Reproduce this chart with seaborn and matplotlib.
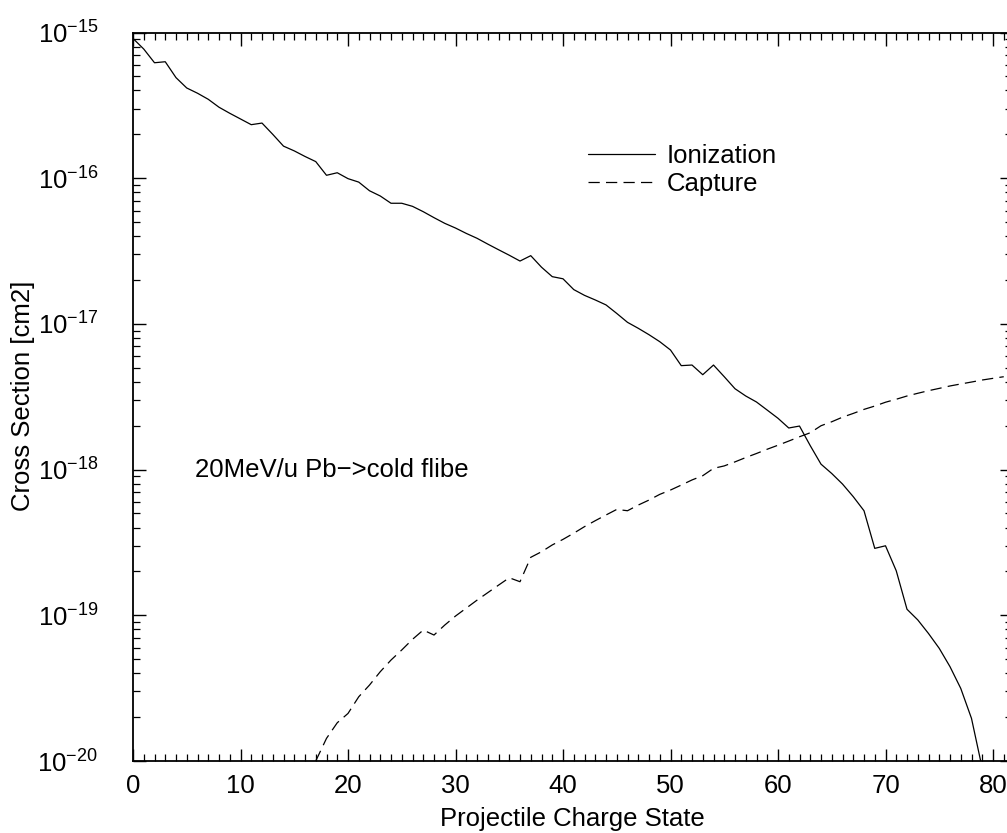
import numpy as np
import pandas as pd
import matplotlib
matplotlib.use("Agg")
import matplotlib.pyplot as plt
import matplotlib.ticker as mticker
import seaborn as sns

# ---------------- data ----------------
ion_charge = list(range(0, 80))
ion_sigma = [
    9.1e-16, 7.7e-16, 6.2e-16, 6.3e-16, 4.9e-16, 4.16e-16, 3.83e-16, 3.48e-16, 3.07e-16, 2.79e-16,
    2.55e-16, 2.33e-16, 2.39e-16, 2.0e-16, 1.66e-16, 1.54e-16, 1.41e-16, 1.30e-16, 1.047e-16, 1.09e-16,
    9.93e-17, 9.4e-17, 8.2e-17, 7.55e-17, 6.73e-17, 6.73e-17, 6.41e-17, 5.89e-17, 5.36e-17, 4.9e-17,
    4.55e-17, 4.18e-17, 3.87e-17, 3.53e-17, 3.23e-17, 2.96e-17, 2.70e-17, 2.94e-17, 2.45e-17, 2.11e-17,
    2.04e-17, 1.72e-17, 1.57e-17, 1.46e-17, 1.35e-17, 1.18e-17, 1.025e-17, 9.33e-18, 8.43e-18, 7.55e-18,
    6.62e-18, 5.17e-18, 5.22e-18, 4.48e-18, 5.22e-18, 4.34e-18, 3.59e-18, 3.2e-18, 2.91e-18, 2.56e-18,
    2.25e-18, 1.93e-18, 1.99e-18, 1.46e-18, 1.09e-18, 9.4e-19, 7.96e-19, 6.52e-19, 5.22e-19, 2.88e-19,
    3.0e-19, 2.02e-19, 1.10e-19, 9.3e-20, 7.5e-20, 5.93e-20, 4.44e-20, 3.15e-20, 1.96e-20, 8.9e-21,
]

cap_charge = list(range(17, 82))
cap_sigma = [
    1.0e-20, 1.43e-20, 1.83e-20, 2.12e-20, 2.76e-20, 3.32e-20, 4.1e-20, 4.93e-20, 5.78e-20, 6.84e-20,
    7.92e-20, 7.32e-20, 8.57e-20, 9.88e-20, 1.12e-19, 1.27e-19, 1.43e-19, 1.61e-19, 1.81e-19, 1.70e-19,
    2.5e-19, 2.73e-19, 3.04e-19, 3.32e-19, 3.66e-19, 4.06e-19, 4.46e-19, 4.88e-19, 5.33e-19, 5.22e-19,
    5.71e-19, 6.18e-19, 6.76e-19, 7.24e-19, 7.83e-19, 8.49e-19, 9.08e-19, 1.02e-18, 1.06e-18, 1.13e-18,
    1.21e-18, 1.29e-18, 1.38e-18, 1.47e-18, 1.57e-18, 1.68e-18, 1.79e-18, 2.0e-18, 2.13e-18, 2.29e-18,
    2.43e-18, 2.59e-18, 2.73e-18, 2.9e-18, 3.04e-18, 3.2e-18, 3.34e-18, 3.48e-18, 3.61e-18, 3.75e-18,
    3.87e-18, 3.99e-18, 4.12e-18, 4.23e-18, 4.34e-18,
]

y_major_ticks = [1e-20, 1e-19, 1e-18, 1e-17, 1e-16, 1e-15]
x_major_ticks = [0, 10, 20, 30, 40, 50, 60, 70, 80]

series_names = ["Ionization", "Capture"]
x_label = "Projectile Charge State"
y_label = "Cross Section [cm2]"
note_text = "20MeV/u Pb\u2212>cold flibe"

# ---------------- style ----------------
sns.set_theme(style="ticks")
plt.rcParams["font.family"] = ["Liberation Sans", "DejaVu Sans"]
plt.rcParams["mathtext.fontset"] = "custom"
plt.rcParams["mathtext.rm"] = "Liberation Sans"
plt.rcParams["mathtext.it"] = "Liberation Sans:italic"
plt.rcParams["mathtext.bf"] = "Liberation Sans:bold"
for k in ["text.color", "axes.labelcolor", "xtick.color", "ytick.color", "axes.edgecolor"]:
    plt.rcParams[k] = "black"
FS = 18.5

W, H = 1007, 833
fig = plt.figure(figsize=(W / 100, H / 100), dpi=100)
left, right, top, bottom = 133, 1012, 32.5, 761
AW, AH = right - left, bottom - top
ax = fig.add_axes([left / W, 1 - bottom / H, AW / W, AH / H])

df_ion = pd.DataFrame({"q": ion_charge, "sigma": ion_sigma})
df_cap = pd.DataFrame({"q": cap_charge, "sigma": cap_sigma})

sns.lineplot(data=df_ion, x="q", y="sigma", ax=ax, color="black", lw=0.9,
             label=series_names[0], estimator=None)
sns.lineplot(data=df_cap, x="q", y="sigma", ax=ax, color="black", lw=0.9,
             label=series_names[1], estimator=None)
ax.lines[1].set_dashes((9, 5))

ax.set_yscale("log")
ax.set_xlim(0, AW / 10.75)
ax.set_ylim(y_major_ticks[0], y_major_ticks[-1])

ax.xaxis.set_major_locator(mticker.FixedLocator(x_major_ticks))
ax.xaxis.set_minor_locator(mticker.MultipleLocator(1))
ax.yaxis.set_major_locator(mticker.FixedLocator(y_major_ticks))
minor_y = [m * t for t in y_major_ticks[:-1] for m in range(2, 10)]
ax.yaxis.set_minor_locator(mticker.FixedLocator(minor_y))
ax.yaxis.set_minor_formatter(mticker.NullFormatter())
ax.yaxis.set_major_formatter(mticker.LogFormatterMathtext())

ax.tick_params(axis="both", which="both", direction="in", top=True, right=True,
               colors="black", labelsize=FS)
ax.tick_params(axis="both", which="major", length=9, width=1.0)
ax.tick_params(axis="both", which="minor", length=5, width=0.9)
ax.tick_params(axis="y", which="major", pad=25)
ax.tick_params(axis="x", which="major", pad=9.5)

for s in ax.spines.values():
    s.set_linewidth(1.3)
    s.set_color("black")

ax.set_xlabel(x_label, fontsize=FS, color="black")
ax.set_ylabel(y_label, fontsize=FS, color="black")
ax.xaxis.label.set_va("baseline")
ax.yaxis.label.set_va("baseline")
ax.xaxis.set_label_coords((572.5 - left) / AW, (bottom - 826) / AH)
ax.yaxis.set_label_coords((30 - left) / AW, (bottom - 396) / AH)

ax.text((195 - left) / AW, (bottom - 470) / AH, note_text,
        transform=ax.transAxes, fontsize=FS, va="center", ha="left", color="black")

leg = ax.legend(loc="upper left",
                bbox_to_anchor=((588 - left) / AW, (bottom - 144) / AH),
                frameon=False, fontsize=FS, handlelength=2.6, handletextpad=0.47,
                borderpad=0, borderaxespad=0, labelspacing=0.14)
for line in leg.get_lines():
    line.set_linewidth(0.9)
leg.get_lines()[1].set_dashes((9, 5))
for t in leg.get_texts():
    t.set_color("black")

ax.set_facecolor("white")
fig.patch.set_facecolor("white")
fig.savefig("out.png", dpi=100, facecolor="white")
